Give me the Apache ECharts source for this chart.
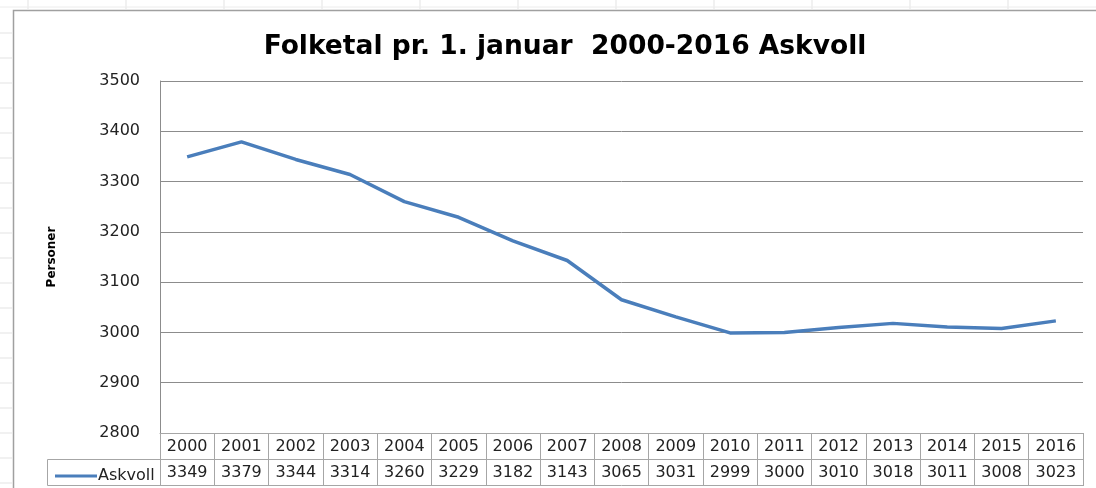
<!DOCTYPE html>
<html>
<head>
<meta charset="utf-8">
<script src="https://cdn.jsdelivr.net/npm/echarts@6/dist/echarts.min.js"></script>
<style>
  html, body { margin: 0; padding: 0; background: #fff; }
  #main { width: 1096px; height: 488px; }
</style>
</head>
<body>
<div id="main"></div>
<script>
var years = ['2000', '2001', '2002', '2003', '2004', '2005', '2006', '2007', '2008',
             '2009', '2010', '2011', '2012', '2013', '2014', '2015', '2016'];
var askvoll = [3349, 3379, 3344, 3314, 3260, 3229, 3182, 3143, 3065,
               3031, 2999, 3000, 3010, 3018, 3011, 3008, 3023];
var seriesName = 'Askvoll';

var dom = document.getElementById('main');
var myChart = echarts.init(dom);

var gridColor = '#8c8c8c';
var tableColor = '#a6a6a6';
var font = 'DejaVu Sans';

// faint spreadsheet grid behind the chart object
var sheet = [];
for (var y = 33; y < 488; y += 25) {
    sheet.push({ type: 'line', shape: { x1: 0, y1: y, x2: 12, y2: y },
                 style: { stroke: '#e3e3e3', lineWidth: 1 } });
}
for (var x = 28; x < 1096; x += 98) {
    sheet.push({ type: 'line', shape: { x1: x, y1: 0, x2: x, y2: 9 },
                 style: { stroke: '#e3e3e3', lineWidth: 1 } });
}
sheet.push({ type: 'line', shape: { x1: 0, y1: 7, x2: 1096, y2: 7 }, style: { stroke: '#ececec', lineWidth: 1 } });
// chart frame
sheet.push({ type: 'polyline', shape: { points: [[13.5, 488], [13.5, 10.5], [1096, 10.5]] },
             style: { stroke: '#a0a0a0', fill: null, lineWidth: 1.5 } });
// legend cell of data table
sheet.push({ type: 'polyline', shape: { points: [[160, 459.5], [47.5, 459.5], [47.5, 485.5], [160, 485.5]] },
             style: { stroke: tableColor, fill: null, lineWidth: 1 } });

option = {
    animation: false,
    title: {
        text: 'Folketal pr. 1. januar  2000-2016 Askvoll',
        left: 560,
        textAlign: 'center',
        top: 29,
        textStyle: { fontFamily: 'DejaVu Sans', fontWeight: 'bold', fontSize: 26.5, color: '#000' }
    },
    legend: {
        left: 50,
        top: 463,
        icon: 'rect',
        itemWidth: 42,
        itemHeight: 3,
        itemGap: 2,
        data: [seriesName],
        textStyle: { fontFamily: font, fontSize: 16, color: '#222', padding: [0, 0, 0, -4] }
    },
    grid: { left: 160, right: 13, top: 81, bottom: 55, containLabel: false },
    graphic: sheet,
    xAxis: [
        {
            type: 'category',
            data: years,
            boundaryGap: true,
            position: 'bottom',
            axisLine: { show: true, lineStyle: { color: tableColor, width: 1 } },
            axisTick: { show: true, length: 53, alignWithLabel: false, lineStyle: { color: tableColor } },
            axisLabel: { interval: 0, margin: 6, fontFamily: font, fontSize: 16, color: '#222' },
            splitLine: { show: false }
        },
        {
            type: 'category',
            data: years,
            position: 'bottom',
            offset: 26,
            axisLine: { show: true, lineStyle: { color: tableColor, width: 1 } },
            axisTick: { show: false },
            axisLabel: {
                interval: 0, margin: 6, fontFamily: font, fontSize: 16, color: '#222',
                formatter: function (v, i) { return String(askvoll[i]); }
            }
        },
        {
            type: 'category',
            data: years,
            position: 'bottom',
            offset: 52,
            axisLine: { show: true, lineStyle: { color: tableColor, width: 1 } },
            axisTick: { show: false },
            axisLabel: { show: false }
        }
    ],
    yAxis: {
        type: 'value',
        min: 2800,
        max: 3500,
        interval: 100,
        name: 'Personer',
        nameLocation: 'middle',
        nameGap: 102,
        nameRotate: 90,
        nameTextStyle: { fontFamily: font, fontWeight: 'bold', fontSize: 12, color: '#000' },
        axisLine: { show: true, lineStyle: { color: gridColor, width: 1 } },
        axisTick: { show: false },
        axisLabel: {
            margin: 20, fontFamily: font, fontSize: 16, color: '#222',
            formatter: function (v) { return String(v); }
        },
        splitLine: { show: true, lineStyle: { color: gridColor, width: 1 } }
    },
    series: [
        {
            name: seriesName,
            type: 'line',
            xAxisIndex: 0,
            data: askvoll,
            showSymbol: false,
            symbol: 'none',
            itemStyle: { color: '#4a7ebb' },
            lineStyle: { color: '#4a7ebb', width: 3.5 }
        }
    ]
};

if (option && typeof option === 'object') {
    myChart.setOption(option, true);
}
</script>
</body>
</html>
